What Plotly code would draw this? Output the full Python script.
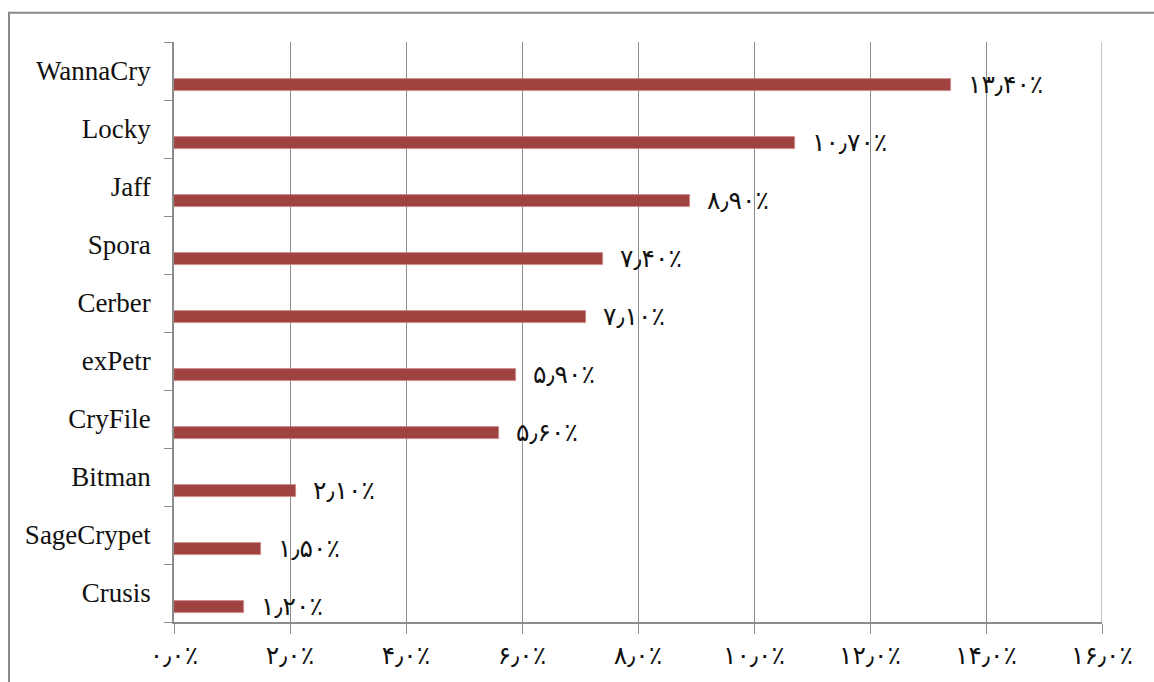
import plotly.graph_objects as go

# Ransomware families, bottom to top as drawn on the category axis
families = ["Crusis", "SageCrypet", "Bitman", "CryFile", "exPetr",
            "Cerber", "Spora", "Jaff", "Locky", "WannaCry"]
shares = [1.2, 1.5, 2.1, 5.6, 5.9, 7.1, 7.4, 8.9, 10.7, 13.4]
x_ticks = [0, 2, 4, 6, 8, 10, 12, 14, 16]

PERSIAN = str.maketrans("0123456789.", "۰۱۲۳۴۵۶۷۸۹٫")


def fa_percent(v, decimals):
    return f"{v:.{decimals}f}".translate(PERSIAN) + "٪"


tick_text = [fa_percent(v, 1) for v in x_ticks]
value_text = [fa_percent(v, 2) for v in shares]

BAR = "#9F4240"
GRID = "#8C8C8C"
FONT = "Liberation Serif, Times New Roman, DejaVu Sans, serif"

# thin bars sitting in the lower part of each category band
BAR_W = 0.21
BAR_OFF = -0.34

fig = go.Figure()
fig.add_trace(go.Bar(
    x=shares,
    y=families,
    orientation="h",
    width=BAR_W,
    offset=BAR_OFF,
    marker=dict(color=BAR, line=dict(color="#C98A88", width=0.8)),
    hoverinfo="skip",
))

for i, (v, t) in enumerate(zip(shares, value_text)):
    fig.add_annotation(
        x=v, y=i + BAR_OFF + BAR_W / 2,
        xref="x", yref="y",
        text=t, showarrow=False,
        xanchor="left", yanchor="middle",
        xshift=15, yshift=0,
        font=dict(family=FONT, size=25, color="#111111"),
    )

# gridline on the right edge of the value range
fig.add_shape(
    type="line", xref="x", yref="paper",
    x0=16, x1=16, y0=0, y1=1,
    line=dict(color=GRID, width=1), layer="below",
)

# outer frame of the chart area
fig.add_shape(
    type="rect", xref="paper", yref="paper",
    x0=-0.1778, x1=1.07, y0=-0.13, y1=1.0505,
    line=dict(color="#8A8A8A", width=2), fillcolor="rgba(0,0,0,0)",
    layer="below",
)

fig.update_layout(
    width=1154, height=682,
    margin=dict(l=174, r=52, t=42, b=60),
    paper_bgcolor="white", plot_bgcolor="white",
    showlegend=False,
    bargap=0,
    xaxis=dict(
        range=[0, 16],
        tickvals=x_ticks, ticktext=tick_text,
        showgrid=True, gridcolor=GRID, gridwidth=1,
        zeroline=False,
        showline=True, linecolor=GRID, linewidth=1.5,
        ticks="outside", ticklen=10, tickcolor=GRID, tickwidth=1,
        tickfont=dict(family=FONT, size=25, color="#111111"),
        fixedrange=True,
    ),
    yaxis=dict(
        type="category",
        categoryorder="array", categoryarray=families,
        range=[-0.5, 9.5],
        tickson="boundaries",
        showgrid=False, zeroline=False,
        showline=True, linecolor=GRID, linewidth=1.5,
        ticks="outside", ticklen=8, tickcolor=GRID, tickwidth=1,
        tickfont=dict(family=FONT, size=27, color="#111111"),
        ticklabelstandoff=16,
        fixedrange=True,
    ),
)

fig.write_html("out.html")
